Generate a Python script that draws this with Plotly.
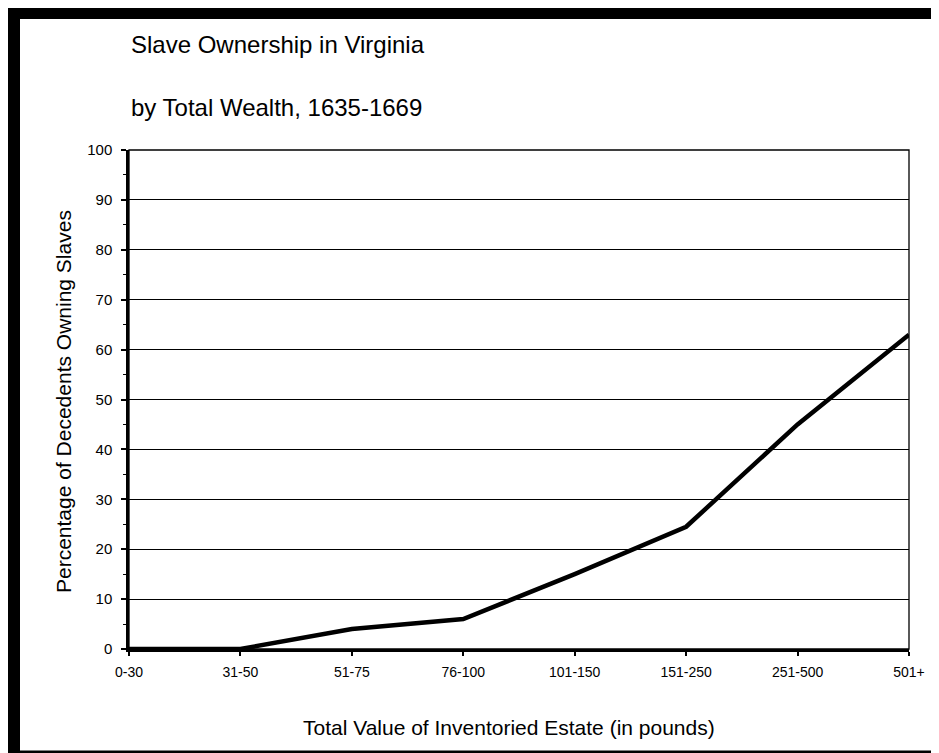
import plotly.graph_objects as go

# ---- data ----
categories = ["0-30", "31-50", "51-75", "76-100", "101-150", "151-250", "251-500", "501+"]
pct_owning = [0, 0, 4, 6, 15, 24.5, 45, 63]
y_ticks = [0, 10, 20, 30, 40, 50, 60, 70, 80, 90, 100]

title_1 = "Slave Ownership in Virginia"
title_2 = "by Total Wealth, 1635-1669"
x_title = "Total Value of Inventoried Estate (in pounds)"
y_title = "Percentage of Decedents Owning Slaves"

# ---- layout geometry (page pixels; the page body has an 8px margin) ----
OFF = 8
PW, PH = 939, 753
FW, FH = PW - OFF, PH - OFF
L, R, T, B = 129, 909, 150, 649   # plot area in page pixels
W, H = R - L, B - T

def px(x):
    return (x - L) / W

def py(y):
    return (B - y) / H

FONT = "Liberation Sans, Arial, sans-serif"

fig = go.Figure()
fig.add_trace(go.Scatter(
    x=categories, y=pct_owning, mode="lines",
    line=dict(color="black", width=4.5),
    cliponaxis=False, showlegend=False, hoverinfo="x+y",
))

shapes = [
    # plot frame (top and right)
    dict(type="rect", xref="paper", yref="paper", x0=0, x1=1, y0=0, y1=1,
         line=dict(color="black", width=1.3), fillcolor="rgba(0,0,0,0)", layer="above"),
    # outer black picture frame: left thick, top thick, bottom thin
    dict(type="rect", xref="paper", yref="paper", x0=px(8), x1=px(20), y0=py(760), y1=py(8),
         line=dict(width=0), fillcolor="black"),
    dict(type="rect", xref="paper", yref="paper", x0=px(8), x1=px(950), y0=py(19), y1=py(8),
         line=dict(width=0), fillcolor="black"),
    dict(type="rect", xref="paper", yref="paper", x0=px(8), x1=px(950), y0=py(753), y1=py(750.5),
         line=dict(width=0), fillcolor="black"),
]

annotations = [
    dict(text=title_1, xref="paper", yref="paper", x=px(129), y=py(45),
         xanchor="left", yanchor="middle", showarrow=False,
         font=dict(family=FONT, size=24, color="black")),
    dict(text=title_2, xref="paper", yref="paper", x=px(129), y=py(108),
         xanchor="left", yanchor="middle", showarrow=False,
         font=dict(family=FONT, size=24, color="black")),
    dict(text=x_title, xref="paper", yref="paper", x=px(509), y=py(727),
         xanchor="center", yanchor="middle", showarrow=False,
         font=dict(family=FONT, size=21, color="black")),
    dict(text=y_title, xref="paper", yref="paper", x=px(63), y=py(402),
         xanchor="center", yanchor="middle", showarrow=False, textangle=-90,
         font=dict(family=FONT, size=21, color="black")),
]

fig.update_layout(
    width=FW, height=FH,
    margin=dict(l=L - OFF, r=PW - R, t=T - OFF, b=PH - B, pad=0),
    paper_bgcolor="white", plot_bgcolor="white",
    shapes=shapes, annotations=annotations,
    showlegend=False,
    xaxis=dict(
        type="category", range=[0, len(categories) - 1],
        showgrid=False, zeroline=False,
        showline=True, linecolor="black", linewidth=2.5,
        ticks="outside", ticklen=4, tickwidth=2, tickcolor="black",
        tickfont=dict(family=FONT, size=14, color="black"),
        ticklabelstandoff=4,
        fixedrange=True,
    ),
    yaxis=dict(
        range=[0, 100], tickvals=y_ticks, ticktext=[str(v) for v in y_ticks],
        showgrid=True, gridcolor="black", gridwidth=1,
        zeroline=False,
        showline=True, linecolor="black", linewidth=2.5,
        ticks="outside", ticklen=5, tickwidth=2, tickcolor="black",
        minor=dict(dtick=5, ticks="outside", ticklen=3, tickcolor="black", tickwidth=1, showgrid=False),
        tickfont=dict(family=FONT, size=15, color="black"),
        ticklabelstandoff=6,
        fixedrange=True,
    ),
)

fig.write_html("out.html")
